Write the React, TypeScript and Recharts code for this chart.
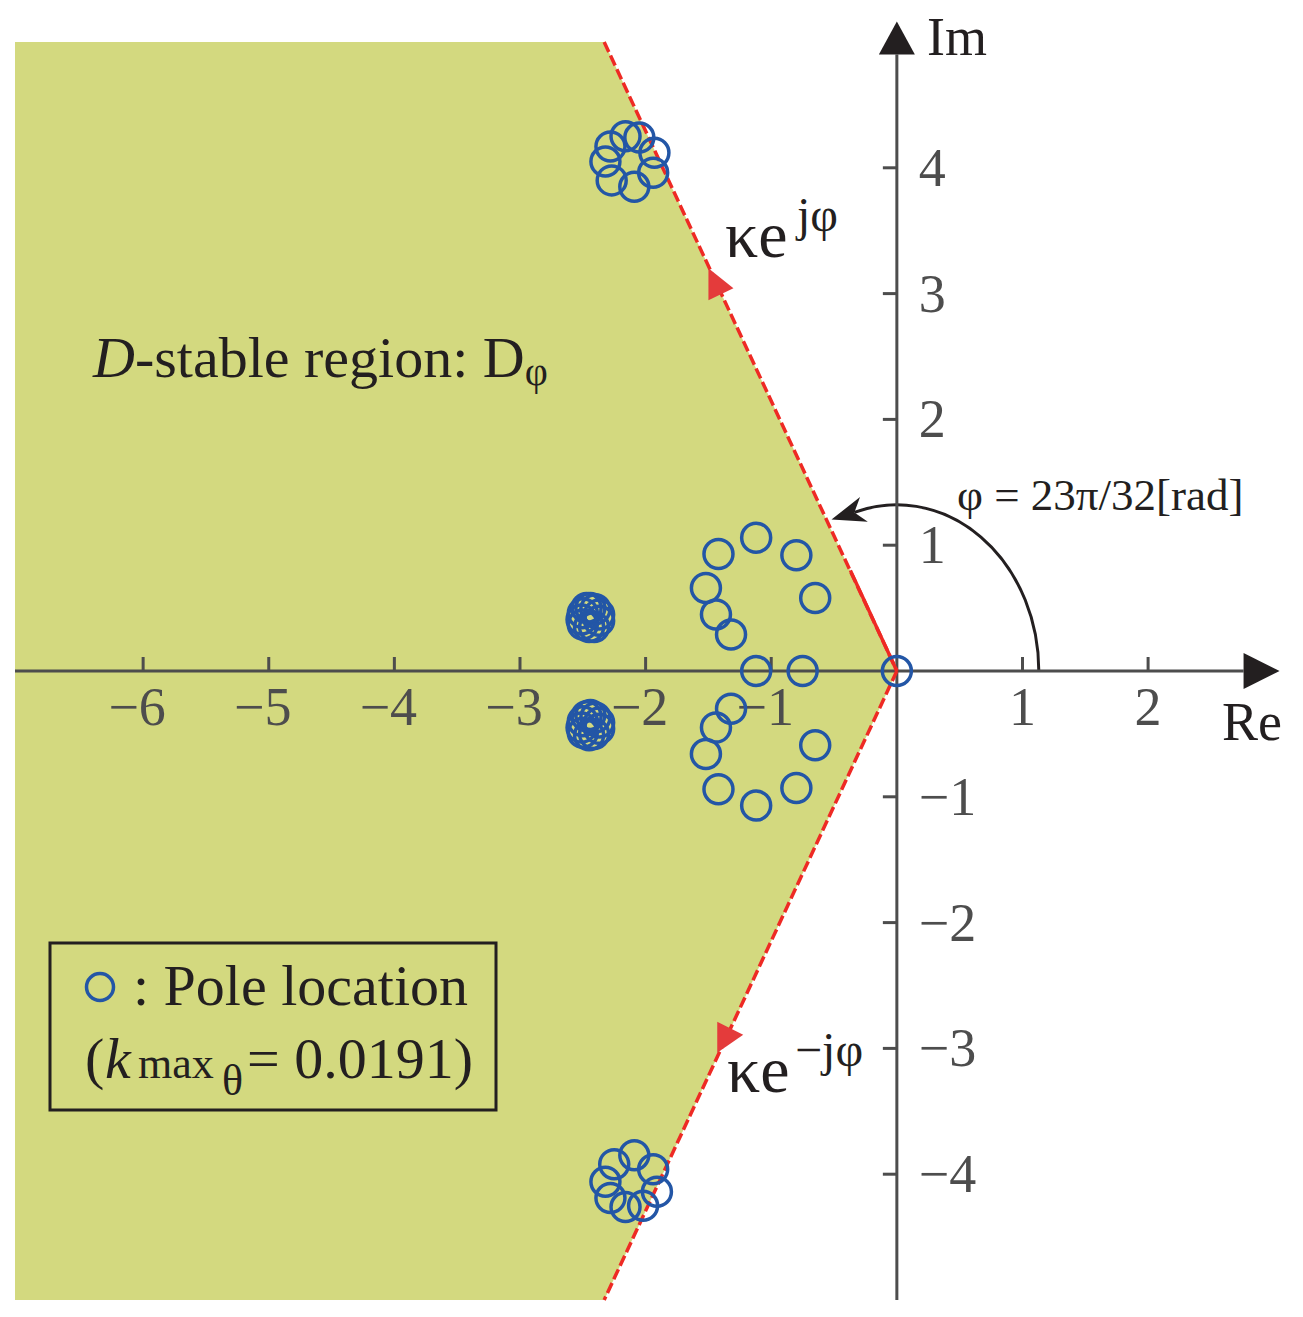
import React from "react";
import {
  ComposedChart,
  XAxis,
  YAxis,
  Area,
  Scatter,
  ReferenceLine,
  ReferenceDot,
  ReferenceArea,
} from "recharts";

const W = 1303;
const H = 1317;
const FONT = '"Liberation Serif", "Times New Roman", serif';
const INK = "#231f20";
const AXIS = "#4d4d4d";
const FILL = "#d3d97f";
const RED = "#ee2a24";
const BLUE = "#2356a6";

// D-stable region boundary: left edge, corner at the top/bottom, vertex at origin
const regionRe = [-7.02, -2.33, 0];
const regionLow = [-5, -5, 0];
const regionHigh = [5, 5, 0];

const xTicks = [-6, -5, -4, -3, -2, -1, 1, 2];
const yTicks = [-4, -3, -2, -1, 1, 2, 3, 4];

// pole locations [Re, Im]
const polesTop: [number, number][] = [
  [-2.16, 4.25], [-2.05, 4.24], [-1.93, 4.12], [-1.94, 3.96],
  [-2.09, 3.85], [-2.27, 3.9], [-2.32, 4.05], [-2.28, 4.17],
];
const polesBottom: [number, number][] = [
  [-2.25, -3.92], [-2.09, -3.85], [-1.94, -3.96], [-1.91, -4.14],
  [-2.02, -4.25], [-2.16, -4.26], [-2.28, -4.19], [-2.32, -4.06],
];
const polesRing: [number, number][] = [
  [-1.12, 1.06], [-1.42, 0.93], [-0.8, 0.92], [-1.52, 0.66],
  [-0.65, 0.58], [-1.44, 0.45], [-1.32, 0.29], [-1.12, 0.0],
  [-0.75, 0.0], [-1.32, -0.3], [-1.44, -0.45], [-1.52, -0.66],
  [-0.65, -0.59], [-1.42, -0.94], [-0.8, -0.93], [-1.12, -1.07],
];
const polesNearUp: [number, number][] = [
  [-2.44, 0.5], [-2.4, 0.49], [-2.37, 0.45], [-2.37, 0.4], [-2.41, 0.35],
  [-2.45, 0.35], [-2.5, 0.37], [-2.51, 0.41], [-2.5, 0.46], [-2.47, 0.5],
];
const polesNearDown: [number, number][] = [
  [-2.44, -0.35], [-2.4, -0.37], [-2.37, -0.41], [-2.37, -0.46], [-2.41, -0.5],
  [-2.45, -0.51], [-2.5, -0.49], [-2.51, -0.45], [-2.5, -0.4], [-2.47, -0.36],
];
const polesOrigin: [number, number][] = [[0, 0]];

const regionData = regionRe.map((x, i) => ({ x, band: [regionLow[i], regionHigh[i]] }));
const allPoles = [
  ...polesTop,
  ...polesBottom,
  ...polesRing,
  ...polesNearUp,
  ...polesNearDown,
  ...polesOrigin,
].map(([x, y]) => ({ x, y }));

const fmt = (v: number) => (v < 0 ? `\u2212${Math.abs(v)}` : `${v}`);

const PoleMark = (p: any) => (
  <circle cx={p.cx} cy={p.cy} r={14.5} fill="none" stroke={BLUE} strokeWidth={3.5} />
);

// angle arrow drawn from an ellipse box centered at the origin
const AngleArc = (p: any) => {
  const rx = p.width / 2;
  const ry = p.height / 2;
  const cx = p.x + rx;
  const cy = p.y + ry;
  const t = (105 * Math.PI) / 180;
  const ex = cx + rx * Math.cos(t);
  const ey = cy - ry * Math.sin(t);
  let dx = -rx * Math.sin(t);
  let dy = -ry * Math.cos(t);
  const len = Math.hypot(dx, dy);
  dx /= len;
  dy /= len;
  const tipX = ex + 30 * dx;
  const tipY = ey + 30 * dy;
  const nx = -dy;
  const ny = dx;
  const pts = [
    [tipX, tipY],
    [ex + 13 * nx - 4 * dx, ey + 13 * ny - 4 * dy],
    [ex + 6 * dx, ey + 6 * dy],
    [ex - 13 * nx - 4 * dx, ey - 13 * ny - 4 * dy],
  ]
    .map((q) => q.join(","))
    .join(" ");
  return (
    <g>
      <path
        d={`M${cx + rx},${cy} A${rx},${ry} 0 0 0 ${ex + 6 * dx},${ey + 6 * dy}`}
        fill="none"
        stroke={INK}
        strokeWidth={3}
      />
      <polygon points={pts} fill={INK} />
    </g>
  );
};

export default function App() {
  return (
    <div style={{ position: "absolute", left: 0, top: 0, width: W, height: H, background: "#fff" }}>
      <ComposedChart
        width={W}
        height={H}
        data={regionData}
        margin={{ top: 42, right: 23, bottom: 17, left: 15 }}
      >
        <XAxis type="number" dataKey="x" domain={[-7.02, 3.05]} hide allowDataOverflow />
        <YAxis type="number" dataKey="y" domain={[-5, 5]} hide allowDataOverflow />

        <Area
          type="linear"
          dataKey="band"
          fill={FILL}
          fillOpacity={1}
          stroke="none"
          isAnimationActive={false}
        />

        {/* axes */}
        <ReferenceLine
          segment={[{ x: -7.02, y: 0 }, { x: 2.76, y: 0 }]}
          stroke={AXIS}
          strokeWidth={3}
          ifOverflow="visible"
        />
        <ReferenceLine
          segment={[{ x: 0, y: -5 }, { x: 0, y: 4.9 }]}
          stroke={AXIS}
          strokeWidth={3}
          ifOverflow="visible"
        />
        <ReferenceDot
          x={2.76}
          y={0}
          r={0}
          ifOverflow="visible"
          shape={(p: any) => (
            <polygon
              points={`${p.cx},${p.cy - 18} ${p.cx + 36},${p.cy} ${p.cx},${p.cy + 18}`}
              fill={INK}
            />
          )}
        />
        <ReferenceDot
          x={0}
          y={4.9}
          r={0}
          ifOverflow="visible"
          shape={(p: any) => (
            <polygon
              points={`${p.cx - 18},${p.cy} ${p.cx},${p.cy - 33} ${p.cx + 18},${p.cy}`}
              fill={INK}
            />
          )}
        />

        {xTicks.map((t) => (
          <ReferenceDot
            key={`xt${t}`}
            x={t}
            y={0}
            r={0}
            ifOverflow="visible"
            shape={(p: any) => (
              <g>
                <line x1={p.cx} y1={p.cy} x2={p.cx} y2={p.cy - 14} stroke={AXIS} strokeWidth={3} />
                <text
                  x={p.cx + (t < 0 ? -6 : 0)}
                  y={p.cy + 54}
                  textAnchor="middle"
                  fontFamily={FONT}
                  fontSize={54}
                  fill={AXIS}
                >
                  {fmt(t)}
                </text>
              </g>
            )}
          />
        ))}
        {yTicks.map((t) => (
          <ReferenceDot
            key={`yt${t}`}
            x={0}
            y={t}
            r={0}
            ifOverflow="visible"
            shape={(p: any) => (
              <g>
                <line x1={p.cx} y1={p.cy} x2={p.cx - 14} y2={p.cy} stroke={AXIS} strokeWidth={3} />
                <text
                  x={p.cx + 22}
                  y={p.cy + 18}
                  textAnchor="start"
                  fontFamily={FONT}
                  fontSize={54}
                  fill={AXIS}
                >
                  {fmt(t)}
                </text>
              </g>
            )}
          />
        ))}

        {/* region boundaries */}
        <ReferenceLine
          segment={[{ x: -2.33, y: 5 }, { x: 0, y: 0 }]}
          stroke={RED}
          strokeWidth={3.5}
          strokeDasharray="11 4"
        />
        <ReferenceLine
          segment={[{ x: -0.37, y: 0.8 }, { x: 0, y: 0 }]}
          stroke={RED}
          strokeWidth={3.5}
        />
        <ReferenceLine
          segment={[{ x: 0, y: 0 }, { x: -2.33, y: -5 }]}
          stroke={RED}
          strokeWidth={3.5}
          strokeDasharray="11 4"
        />
        <ReferenceDot
          x={-1.5}
          y={3.05}
          r={0}
          ifOverflow="visible"
          shape={(p: any) => (
            <polygon
              points={`${p.cx},${p.cy - 19} ${p.cx + 25},${p.cy + 1} ${p.cx},${p.cy + 13}`}
              fill="#e43b3b"
            />
          )}
        />
        <ReferenceDot
          x={-1.43}
          y={-2.9}
          r={0}
          ifOverflow="visible"
          shape={(p: any) => (
            <polygon
              points={`${p.cx},${p.cy - 14} ${p.cx + 26},${p.cy - 1} ${p.cx},${p.cy + 17}`}
              fill="#e43b3b"
            />
          )}
        />

        <ReferenceArea x1={-1.13} x2={1.13} y1={-1.32} y2={1.32} shape={AngleArc} ifOverflow="visible" />

        <Scatter data={allPoles} shape={PoleMark} isAnimationActive={false} />
      </ComposedChart>

      <svg
        width={W}
        height={H}
        style={{ position: "absolute", left: 0, top: 0, pointerEvents: "none" }}
        fontFamily={FONT}
        fill={INK}
      >
        <text x={927} y={55} fontSize={54}>Im</text>
        <text x={1222} y={740} fontSize={54}>Re</text>
        <text x={957} y={510} fontSize={45}>φ = 23π/32[rad]</text>

        <text x={93} y={377} fontSize={58}>
          <tspan fontStyle="italic">D</tspan>-stable region: D
          <tspan fontSize={40} dy={8}>φ</tspan>
        </text>

        <text x={725} y={257} fontSize={66}>κe</text>
        <text x={797} y={231} fontSize={48}>jφ</text>
        <text x={727} y={1092} fontSize={66}>κe</text>
        <text x={795} y={1066} fontSize={48}>−jφ</text>

        <rect x={50} y={943} width={446} height={167} fill="none" stroke={INK} strokeWidth={3} />
        <circle cx={100} cy={987} r={13.5} fill="none" stroke={BLUE} strokeWidth={3.5} />
        <text x={133} y={1005} fontSize={58}>: Pole location</text>
        <text x={85} y={1078} fontSize={58}>(</text>
        <text x={105} y={1078} fontSize={58} fontStyle="italic">k</text>
        <text x={138} y={1078} fontSize={44}>max</text>
        <text x={222} y={1095} fontSize={44}>θ</text>
        <text x={247} y={1078} fontSize={58}>= 0.0191)</text>
      </svg>
    </div>
  );
}
